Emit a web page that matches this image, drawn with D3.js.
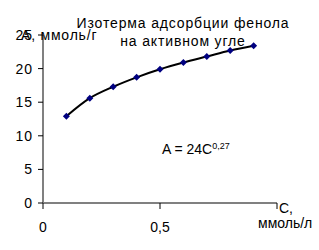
<!DOCTYPE html>
<html>
<head>
<meta charset="utf-8">
<script src="https://cdn.jsdelivr.net/npm/d3@7"></script>
<style>
  body { margin: 0; background: #fff; }
  svg { display: block; font-family: "Liberation Sans", Arial, sans-serif; }
</style>
</head>
<body>
<div id="chart"></div>
<script>
// data
const concC = [0.1, 0.2, 0.3, 0.4, 0.5, 0.6, 0.7, 0.8, 0.9];
const adsA = [12.9, 15.6, 17.3, 18.7, 19.9, 20.9, 21.8, 22.7, 23.4];
const yTicks = [0, 5, 10, 15, 20, 25];
const xTicks = [0, 0.5, 1];
const xTickLabels = ["0", "0,5", ""];

const W = 319, H = 250;
const svg = d3.select("#chart").append("svg")
  .attr("width", W).attr("height", H);

const x = d3.scaleLinear().domain([0, 1]).range([43, 277]);
const y = d3.scaleLinear().domain([0, 25]).range([203, 35]);

// axes lines
svg.append("line")
  .attr("x1", x(0)).attr("x2", x(0))
  .attr("y1", y(25)).attr("y2", y(0))
  .attr("stroke", "#808080").attr("stroke-width", 2);
svg.append("line")
  .attr("x1", x(0)).attr("x2", x(1))
  .attr("y1", y(0)).attr("y2", y(0))
  .attr("stroke", "#808080").attr("stroke-width", 2);

// y ticks + labels
svg.selectAll(".yt").data(yTicks).join("line")
  .attr("x1", x(0) - 5).attr("x2", x(0))
  .attr("y1", d => y(d)).attr("y2", d => y(d))
  .attr("stroke", "#000");
svg.selectAll(".yl").data(yTicks).join("text")
  .attr("x", 33).attr("y", d => y(d) + 5)
  .attr("text-anchor", "end")
  .attr("font-size", 14).attr("letter-spacing", 1)
  .text(d => d);

// x ticks + labels
svg.selectAll(".xt").data(xTicks).join("line")
  .attr("x1", d => x(d)).attr("x2", d => x(d))
  .attr("y1", y(0)).attr("y2", y(0) + 6)
  .attr("stroke", "#000");
svg.selectAll(".xl").data(xTicks).join("text")
  .attr("x", d => x(d)).attr("y", 232)
  .attr("text-anchor", "middle")
  .attr("font-size", 14)
  .text((d, i) => xTickLabels[i]);

// trend curve through the points
svg.append("path")
  .datum(concC.map((c, i) => [c, adsA[i]]))
  .attr("fill", "none")
  .attr("stroke", "#000")
  .attr("stroke-width", 2)
  .attr("d", d3.line().x(d => x(d[0])).y(d => y(d[1])).curve(d3.curveCatmullRom));

// markers (diamonds)
svg.selectAll(".pt").data(concC).join("path")
  .attr("transform", (d, i) => `translate(${x(d)},${y(adsA[i])})`)
  .attr("d", "M0,-3.5L3.5,0L0,3.5L-3.5,0Z")
  .attr("fill", "#000080");

// title
svg.append("text").attr("x", 183).attr("y", 28)
  .attr("text-anchor", "middle").attr("font-size", 14).attr("letter-spacing", 0.85)
  .text("Изотерма адсорбции фенола");
svg.append("text").attr("x", 183).attr("y", 46)
  .attr("text-anchor", "middle").attr("font-size", 14).attr("letter-spacing", 0.85)
  .text("на активном угле");

// axis titles
svg.append("text").attr("x", 21).attr("y", 40)
  .attr("font-size", 14).attr("letter-spacing", 0.8).text("А, ммоль/г");
svg.append("text").attr("x", 279).attr("y", 213)
  .attr("font-size", 14).text("С,");
svg.append("text").attr("x", 258).attr("y", 228)
  .attr("font-size", 14).text("ммоль/л");

// equation
const eq = svg.append("text").attr("x", 162).attr("y", 154).attr("font-size", 14);
eq.append("tspan").text("A = 24C");
eq.append("tspan").attr("dy", -5).attr("font-size", 9).text("0,27");
</script>
</body>
</html>
